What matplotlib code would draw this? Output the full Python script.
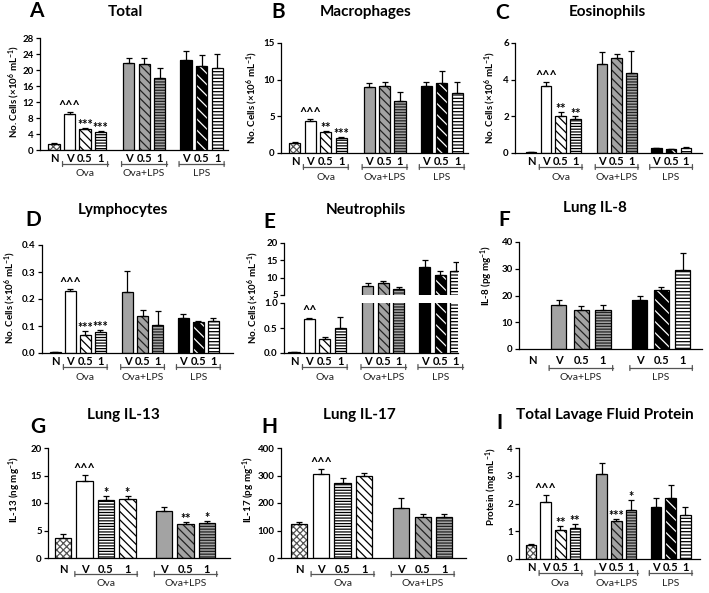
import matplotlib
matplotlib.use('Agg')
import matplotlib.pyplot as plt
from matplotlib import transforms

plt.rcParams['font.family'] = ['Lato', 'DejaVu Sans']
plt.rcParams['font.weight'] = 'bold'
plt.rcParams['mathtext.fontset'] = 'custom'
plt.rcParams['mathtext.rm'] = 'Lato'
plt.rcParams['mathtext.bf'] = 'Lato:bold'
plt.rcParams['mathtext.default'] = 'bf'
plt.rcParams['hatch.linewidth'] = 0.9

# ---- data ----
ticks10 = ['N', 'V', '0.5', '1', 'V', '0.5', '1', 'V', '0.5', '1']
ticks7 = ['N', 'V', '0.5', '1', 'V', '0.5', '1']

total_mean = [1.5, 9.0, 5.2, 4.4, 21.7, 21.5, 18.0, 22.5, 21.0, 20.5]
total_err = [0.2, 0.5, 0.3, 0.4, 1.3, 1.4, 2.6, 2.3, 2.7, 3.6]
total_sig = ['', '^^^', '***', '***', '', '', '', '', '', '']

macro_mean = [1.3, 4.4, 2.8, 2.1, 9.0, 9.2, 7.1, 9.2, 9.6, 8.2]
macro_err = [0.15, 0.2, 0.2, 0.15, 0.5, 0.55, 1.2, 0.45, 1.6, 1.5]
macro_sig = ['', '^^^', '**', '***', '', '', '', '', '', '']

eos_mean = [0.05, 3.65, 2.0, 1.85, 4.85, 5.2, 4.35, 0.25, 0.2, 0.27]
eos_err = [0.02, 0.2, 0.22, 0.15, 0.65, 0.22, 1.2, 0.05, 0.03, 0.05]
eos_sig = ['', '^^^', '**', '**', '', '', '', '', '', '']

lym_mean = [0.003, 0.228, 0.068, 0.077, 0.225, 0.138, 0.102, 0.13, 0.115, 0.117]
lym_err = [0.001, 0.008, 0.015, 0.01, 0.077, 0.022, 0.052, 0.014, 0.003, 0.011]
lym_sig = ['', '^^^', '***', '***', '', '', '', '', '', '']

neu_mean = [0.02, 0.68, 0.29, 0.51, 7.6, 8.4, 6.6, 13.0, 10.9, 12.0]
neu_err = [0.005, 0.025, 0.04, 0.22, 1.0, 0.7, 0.8, 2.0, 1.1, 2.5]
neu_sig = ['', '^^', '', '', '', '', '', '', '', '']

il8_mean = [None, 16.5, 14.5, 14.7, 18.5, 22.0, 29.5]
il8_err = [0, 1.7, 1.4, 1.7, 1.5, 1.3, 6.5]
il8_sig = ['', '', '', '', '', '', '']

il13_mean = [3.7, 14.0, 10.6, 10.7, 8.6, 6.1, 6.3]
il13_err = [0.6, 1.1, 0.7, 0.6, 0.6, 0.5, 0.4]
il13_sig = ['', '^^^', '*', '*', '', '**', '*']

il17_mean = [123, 305, 272, 298, 183, 148, 148]
il17_err = [8, 18, 20, 12, 37, 13, 13]
il17_sig = ['', '^^^', '', '', '', '', '']

prot_mean = [0.5, 2.05, 1.03, 1.12, 3.05, 1.38, 1.75, 1.88, 2.2, 1.6]
prot_err = [0.04, 0.25, 0.15, 0.15, 0.42, 0.07, 0.38, 0.33, 0.45, 0.26]
prot_sig = ['', '^^^', '**', '**', '', '***', '*', '', '', '']

# ---- styles ----
STYLES = {
    'N': ('white', 'xxxxx', '#555555'),
    'w': ('white', '', None),
    'wd': ('white', '\\\\\\\\', 'black'),
    'wh': ('white', '------', 'black'),
    'g': ('#a3a3a3', '', None),
    'gd': ('#a3a3a3', '\\\\\\\\', '#222222'),
    'gh': ('#a3a3a3', '------', '#222222'),
    'b': ('black', '', None),
    'bd': ('black', '\\\\\\', 'white'),
    'bh': ('white', '-----', 'black'),
}
keys10 = ['N', 'w', 'wd', 'wh', 'g', 'gd', 'gh', 'b', 'bd', 'bh']
keys7 = ['N', 'w', 'wh', 'wd', 'g', 'gd', 'gh']
keysF = ['N', 'g', 'gd', 'gh', 'b', 'bd', 'bh']

pos10 = [0, 1, 2, 3, 4.8, 5.8, 6.8, 8.5, 9.5, 10.5]
pos7 = [0, 1, 2, 3, 4.7, 5.7, 6.7]
posF = [0, 1.25, 2.3, 3.3, 5.0, 6.0, 7.0]

W, H = 709, 593
fig = plt.figure(figsize=(W / 100, H / 100), dpi=100)


def px_axes(l, t, r, b):
    return fig.add_axes([l / W, 1 - b / H, (r - l) / W, (b - t) / H])


def style_ax(ax, bottom=True):
    for s in ['top', 'right']:
        ax.spines[s].set_visible(False)
    ax.spines['left'].set_linewidth(0.9)
    ax.spines['bottom'].set_linewidth(0.9)
    if not bottom:
        ax.spines['bottom'].set_visible(False)
    ax.tick_params(axis='y', direction='out', length=3, width=0.9, labelsize=7, pad=1.5)
    ax.tick_params(axis='x', length=0, labelsize=8, pad=2.5)


def draw_bars(ax, xs, means, errs, keys, sigs, width):
    for x, m, e, k, s in zip(xs, means, errs, keys, sigs):
        if m is None:
            continue
        fc, hatch, hc = STYLES[k]
        ax.bar(x, m, width, color=fc, linewidth=0, zorder=2)
        if hatch:
            ax.bar(x, m, width, color='none', edgecolor=hc, hatch=hatch, linewidth=0, zorder=3)
        ax.bar(x, m, width, fill=False, edgecolor='black', linewidth=0.9, zorder=4)
        ax.errorbar(x, m, yerr=[[0], [e]], fmt='none', ecolor='black',
                    elinewidth=0.9, capsize=2.3, capthick=0.9, zorder=5)
        if s:
            star = '*' in s
            ax.annotate(s, (x, m + e), xytext=(0, -2.3 if star else 0.3),
                        textcoords='offset points', ha='center', va='bottom',
                        fontsize=9 if star else 9, fontweight='bold', zorder=6)


def brackets(ax, groups, dy_line=14, dy_text=24):
    tl = transforms.offset_copy(ax.get_xaxis_transform(), fig=fig, y=-dy_line, units='dots')
    tt = transforms.offset_copy(ax.get_xaxis_transform(), fig=fig, y=-dy_text, units='dots')
    tk = transforms.offset_copy(ax.get_xaxis_transform(), fig=fig, y=-dy_line + 2.5, units='dots')
    tk2 = transforms.offset_copy(ax.get_xaxis_transform(), fig=fig, y=-dy_line - 2.5, units='dots')
    for name, a, b in groups:
        ax.plot([a, b], [0, 0], color='#555555', lw=0.9, transform=tl, clip_on=False)
        for xx in (a, b):
            ax.annotate('', xy=(xx, 0), xycoords=tk, xytext=(xx, 0), textcoords=tk2,
                        arrowprops=dict(arrowstyle='-', color='#555555', lw=0.9,
                                        shrinkA=0, shrinkB=0))
        ax.text((a + b) / 2, 0, name, transform=tt, ha='center', va='center',
                fontsize=7.5, fontweight='normal', color='#222222')


def heading(x, y, letter, lx, ly, title):
    fig.text(lx / W, 1 - ly / H, letter, fontsize=15, fontweight='bold', ha='center', va='center')
    fig.text(x / W, 1 - y / H, title, fontsize=11, fontweight='bold', ha='center', va='center')


def ylab(x, y, s):
    fig.text(x / W, 1 - y / H, s, rotation=90, fontsize=7, fontweight='bold', ha='center', va='center')


cells = r'No. Cells ($\times$10$^{6}$ mL$^{-1}$)'
g3 = lambda p: [('Ova', p[1] - 0.45, p[3] + 0.45), ('Ova+LPS', p[4] - 0.45, p[6] + 0.45),
                ('LPS', p[7] - 0.45, p[9] + 0.45)]


def panel10(rect, xlim, means, errs, sigs, ylim, yticks, yfmt):
    ax = px_axes(*rect)
    draw_bars(ax, pos10, means, errs, keys10, sigs, 0.72)
    ax.set_xlim(*xlim)
    ax.set_ylim(*ylim)
    ax.set_yticks(yticks)
    ax.set_yticklabels([yfmt.format(v) for v in yticks])
    ax.set_xticks(pos10)
    ax.set_xticklabels(ticks10)
    style_ax(ax)
    brackets(ax, g3(pos10))
    return ax


# A
panel10((40, 38, 228, 150), (-0.9, 11.2), total_mean, total_err, total_sig,
        (0, 28), list(range(0, 29, 4)), '{:d}')
heading(125, 12, 'A', 36, 11, 'Total')
ylab(14, 92, cells)

# B
panel10((281, 43, 468, 153), (-0.9, 11.2), macro_mean, macro_err, macro_sig,
        (0, 15), [0, 5, 10, 15], '{:d}')
heading(366, 12, 'B', 278, 12, 'Macrophages')
ylab(252, 98, cells)

# C
panel10((515, 43, 702, 153), (-1.1, 11.6), eos_mean, eos_err, eos_sig,
        (0, 6), [0, 2, 4, 6], '{:d}')
heading(607, 12, 'C', 502, 13, 'Eosinophils')
ylab(490, 98, cells)

# D
panel10((42, 245, 233, 353), (-0.87, 11.8), lym_mean, lym_err, lym_sig,
        (0, 0.4), [0, 0.1, 0.2, 0.3, 0.4], '{:.1f}')
heading(123, 210, 'D', 33, 220, 'Lymphocytes')
ylab(10, 298, cells)

# E (broken axis)
axE_top = px_axes(284, 243, 458, 295)
axE_bot = px_axes(284, 303, 458, 353)
for axe in (axE_top, axE_bot):
    draw_bars(axe, pos10, neu_mean, neu_err, keys10,
              neu_sig if axe is axE_bot else [''] * 10, 0.72)
    axe.set_xlim(-0.65, 10.65)
axE_top.set_ylim(5, 20)
axE_top.set_yticks([5, 10, 15, 20])
axE_top.set_xticks([])
style_ax(axE_top, bottom=False)
axE_bot.set_ylim(0, 1.0)
axE_bot.set_yticks([0, 0.5, 1.0])
axE_bot.set_yticklabels(['0.0', '0.5', '1.0'])
axE_bot.set_xticks(pos10)
axE_bot.set_xticklabels(ticks10)
style_ax(axE_bot)
brackets(axE_bot, g3(pos10))
heading(366, 210, 'E', 269, 222, 'Neutrophils')
ylab(253, 298, cells)

# F
axF = px_axes(519, 242, 702, 349)
draw_bars(axF, posF, il8_mean, il8_err, keysF, il8_sig, 0.7)
axF.set_xlim(-0.6, 7.9)
axF.set_ylim(0, 40)
axF.set_yticks([0, 10, 20, 30, 40])
axF.set_xticks(posF)
axF.set_xticklabels(ticks7)
style_ax(axF)
axF.tick_params(axis='x', pad=4)
brackets(axF, [('Ova+LPS', posF[1] - 0.45, posF[3] + 0.45),
               ('LPS', posF[4] - 0.45, posF[6] + 0.45)], 19, 28)
heading(595, 208, 'F', 504, 220, 'Lung IL-8')
ylab(487, 275, r'IL-8 (pg mg$^{-1}$)')

# G
axG = px_axes(48, 448, 230, 558)
draw_bars(axG, pos7, il13_mean, il13_err, keys7, il13_sig, 0.75)
axG.set_xlim(-0.7, 7.77)
axG.set_ylim(0, 20)
axG.set_yticks([0, 5, 10, 15, 20])
axG.set_xticks(pos7)
axG.set_xticklabels(ticks7)
style_ax(axG)
axG.tick_params(axis='x', pad=4)
brackets(axG, [('Ova', pos7[1] - 0.45, pos7[3] + 0.45),
               ('Ova+LPS', pos7[4] - 0.45, pos7[6] + 0.45)], 16, 26)
heading(123, 415, 'G', 38, 427, 'Lung IL-13')
ylab(15, 490, r'IL-13 (ng mg$^{-1}$)')

# H
axH = px_axes(281, 448, 466, 558)
draw_bars(axH, pos7, il17_mean, il17_err, keys7, il17_sig, 0.75)
axH.set_xlim(-0.84, 7.7)
axH.set_ylim(0, 400)
axH.set_yticks([0, 100, 200, 300, 400])
axH.set_xticks(pos7)
axH.set_xticklabels(ticks7)
style_ax(axH)
axH.tick_params(axis='x', pad=4)
brackets(axH, [('Ova', pos7[1] - 0.45, pos7[3] + 0.45),
               ('Ova+LPS', pos7[4] - 0.45, pos7[6] + 0.45)], 16, 26)
heading(359, 415, 'H', 269, 427, 'Lung IL-17')
ylab(249, 490, r'IL-17 (pg mg$^{-1}$)')

# I
panel10((519, 448, 700, 559), (-0.82, 11.5), prot_mean, prot_err, prot_sig,
        (0, 4), [0, 1, 2, 3, 4], '{:d}')
heading(605, 415, 'I', 499, 423, 'Total Lavage Fluid Protein')
ylab(492, 487, r'Protein (mg mL$^{-1}$)')

fig.savefig('out.png', dpi=100)
